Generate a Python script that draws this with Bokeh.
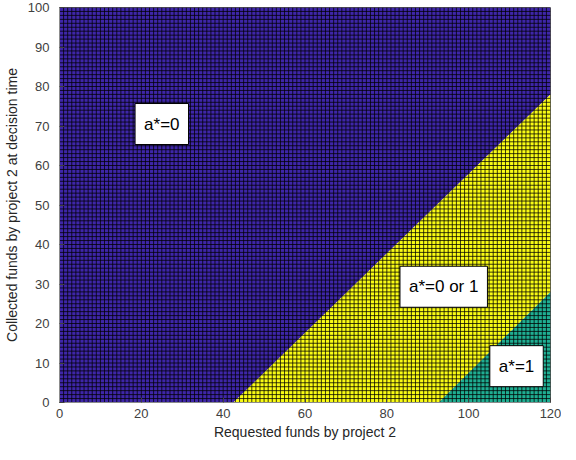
from bokeh.plotting import figure
from bokeh.models import Label, FixedTicker, Range1d
from bokeh.embed import file_html
from bokeh.resources import INLINE
import numpy as np

# ---- data ----
x_max = 120
y_max = 100
x_ticks = [0, 20, 40, 60, 80, 100, 120]
y_ticks = [0, 10, 20, 30, 40, 50, 60, 70, 80, 90, 100]

region_labels = ["a*=0", "a*=0 or 1", "a*=1"]
region_colors = ["#3e26a8", "#f9fb15", "#1fae92"]
blue_x = [0, 42.5, 120, 120, 0]
blue_y = [0, 0, 78, 100, 100]
yellow_x = [42.5, 92.7, 120, 120]
yellow_y = [0, 0, 28, 78]
teal_x = [92.7, 120, 120]
teal_y = [0, 0, 28]
label_x = [25.0, 93.9, 111.7]
label_y = [70.5, 29.3, 9.2]

FONT = "Liberation Sans"

p = figure(frame_width=491, frame_height=395, output_backend="svg",
           toolbar_location=None, x_range=Range1d(0, x_max), y_range=Range1d(0, y_max),
           min_border_left=58, min_border_right=11, min_border_top=7, min_border_bottom=42)
p.grid.visible = False
p.background_fill_color = "white"
p.outline_line_color = "#8c8c8c"

p.patches([blue_x, yellow_x, teal_x], [blue_y, yellow_y, teal_y],
          fill_color=region_colors, line_color=None)

# cell edges (pcolor-style grid)
gx = np.arange(0, x_max + 1)
gy = np.arange(0, y_max + 1)
p.segment(x0=gx, y0=np.zeros_like(gx), x1=gx, y1=np.full_like(gx, y_max),
          line_color="black", line_width=0.8, line_alpha=0.95)
p.segment(x0=np.zeros_like(gy), y0=gy, x1=np.full_like(gy, x_max), y1=gy,
          line_color="black", line_width=0.8, line_alpha=0.95)

for name, lx, ly in zip(region_labels, label_x, label_y):
    p.add_layout(Label(x=lx, y=ly, text=name, text_align="center", text_baseline="middle",
                       text_font=FONT, text_font_size="17px", text_color="black",
                       background_fill_color="white", border_line_color="black",
                       border_line_width=1,
                       padding=dict(left=9, right=9, top=11, bottom=11)))

def style(ax):
    ax.axis_line_color = "#8c8c8c"
    ax.major_tick_line_color = "#404040"
    ax.major_tick_in = 5
    ax.major_tick_out = 0
    ax.minor_tick_line_color = None
    ax.major_label_text_font = FONT
    ax.major_label_text_font_size = "13px"
    ax.major_label_text_color = "#404040"
    ax.axis_label_text_font = FONT
    ax.axis_label_text_font_size = "14px"
    ax.axis_label_text_font_style = "normal"
    ax.axis_label_text_color = "#262626"

p.xaxis.ticker = FixedTicker(ticks=x_ticks)
p.yaxis.ticker = FixedTicker(ticks=y_ticks)
p.xaxis.axis_label = "Requested funds by project 2"
p.yaxis.axis_label = "Collected funds by project 2 at decision time"
style(p.xaxis[0])
style(p.yaxis[0])
p.xaxis.major_label_standoff = 6
p.yaxis.major_label_standoff = 10
p.xaxis.axis_label_standoff = 3
p.yaxis.axis_label_standoff = 5

open("out.html", "w").write(file_html(p, INLINE))
